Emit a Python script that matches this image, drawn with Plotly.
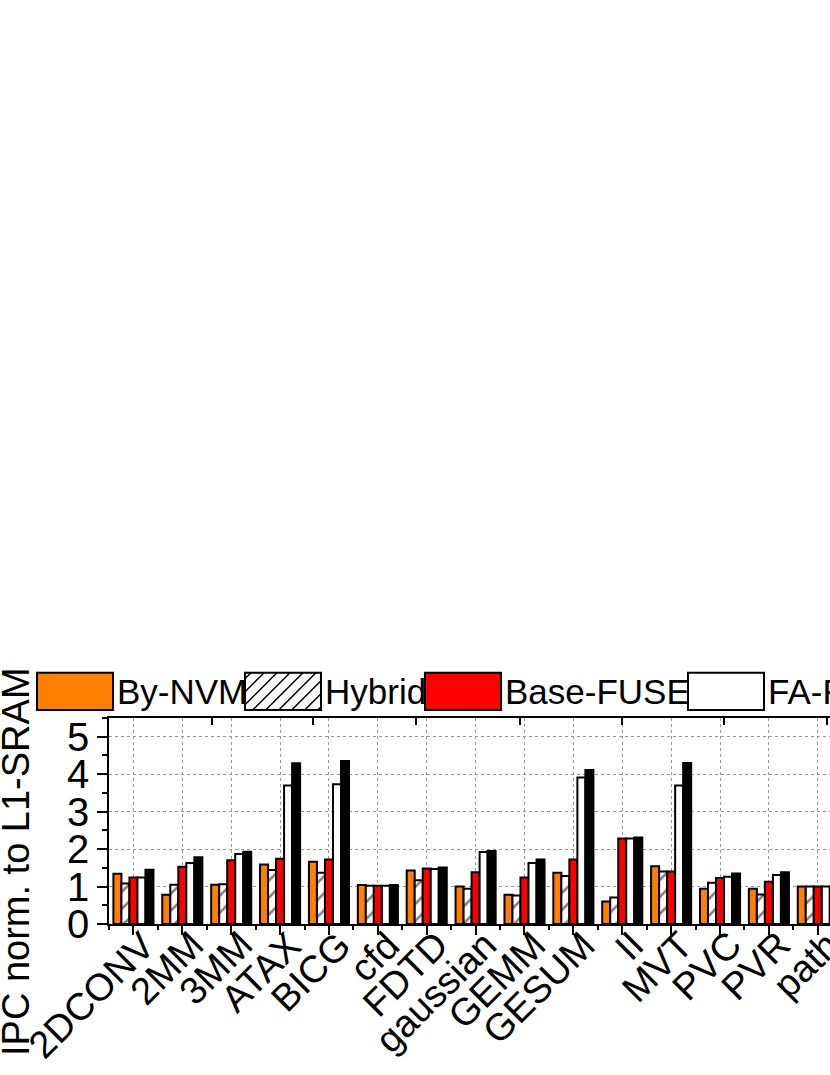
import plotly.graph_objects as go

categories = ["2DCONV", "2MM", "3MM", "ATAX", "BICG", "cfd", "FDTD", "gaussian",
              "GEMM", "GESUM", "II", "MVT", "PVC", "PVR", "path"]
series_names = ["By-NVM", "Hybrid", "Base-FUSE", "FA-FUSE", "FUSE"]
by_nvm    = [1.34, 0.78, 1.05, 1.59, 1.66, 1.04, 1.43, 1.00, 0.78, 1.37, 0.60, 1.54, 0.94, 0.94, 1.00]
hybrid    = [1.08, 1.05, 1.06, 1.44, 1.37, 1.02, 1.17, 0.94, 0.76, 1.28, 0.71, 1.40, 1.10, 0.79, 1.00]
base_fuse = [1.24, 1.53, 1.70, 1.74, 1.72, 1.02, 1.48, 1.38, 1.24, 1.72, 2.28, 1.40, 1.23, 1.13, 1.00]
fa_fuse   = [1.24, 1.63, 1.87, 3.70, 3.73, 1.02, 1.47, 1.92, 1.63, 3.91, 2.28, 3.70, 1.26, 1.31, 1.00]
fuse      = [1.45, 1.78, 1.93, 4.29, 4.35, 1.04, 1.51, 1.95, 1.72, 4.11, 2.31, 4.30, 1.35, 1.38, 1.00]
y_ticks = [0, 1, 2, 3, 4, 5]
top_ticks = [1.60, 3.68, 5.79, 7.91, 9.99, 12.08, 14.18]

FONT = "Liberation Sans, Arial, Helvetica, sans-serif"
colors = ["#FF8000", "#FFFFFF", "#FF0000", "#FFFFFF", "#000000"]
patterns = ["", "/", "", "", ""]
values = [by_nvm, hybrid, base_fuse, fa_fuse, fuse]
xs = list(range(len(categories)))

fig = go.Figure()
for name, vals, col, pat in zip(series_names, values, colors, patterns):
    fig.add_trace(go.Bar(
        x=xs, y=vals, name=name, showlegend=False,
        marker=dict(color=col, line=dict(color="black", width=2),
                    pattern=dict(shape=pat, fgcolor="black", bgcolor="white", size=12, solidity=0.22)),
    ))

# invisible trace to host the top axis
fig.add_trace(go.Scatter(x=[None], y=[None], xaxis="x2", yaxis="y", showlegend=False, hoverinfo="skip"))

W, H = 830, 1075
L, R_, T, B = 109, 0, 718, 151
pw = W - L - R_
ph = H - T - B

def px(x):
    return (x - L) / pw

def py(y):
    return (H - B - y) / ph

# custom legend (big swatches)
shapes = []
annotations = []
box_w = 76
box_y0, box_y1 = 672.7, 710.0
leg_x = [37, 245, 425, 688, 930]
for i, (name, col) in enumerate(zip(series_names, colors)):
    x0 = leg_x[i]
    x1 = x0 + box_w
    shapes.append(dict(type="rect", xref="paper", yref="paper",
                       x0=px(x0), x1=px(x1), y0=py(box_y1), y1=py(box_y0),
                       fillcolor=col, line=dict(color="black", width=2), layer="above"))
    if patterns[i] == "/":
        segs = []
        step = 13.0
        h = box_y1 - box_y0
        c = x0 - h + 6
        while c < x1:
            xa, ya = c, box_y1
            xb, yb = c + h, box_y0
            if xa < x0:
                ya = box_y1 - (x0 - c)
                xa = x0
            if xb > x1:
                yb = box_y1 - (x1 - c)
                xb = x1
            if xb > xa:
                segs.append(f"M {px(xa):.5f},{py(ya):.5f} L {px(xb):.5f},{py(yb):.5f}")
            c += step
        shapes.append(dict(type="path", xref="paper", yref="paper", path=" ".join(segs),
                           line=dict(color="black", width=1.5), layer="above"))
    annotations.append(dict(text=name, xref="paper", yref="paper", x=px(x1 + 2),
                            y=py((box_y0 + box_y1) / 2), xanchor="left", yanchor="middle",
                            showarrow=False, font=dict(family=FONT, size=35, color="black")))

annotations.append(dict(text="IPC norm. to L1-SRAM", xref="paper", yref="paper",
                        x=px(16), y=py(862), textangle=-90, showarrow=False,
                        xanchor="center", yanchor="middle",
                        font=dict(family=FONT, size=38, color="black")))

# rotated category labels
for xi, cat in zip(xs, categories):
    annotations.append(dict(text=cat, xref="x", yref="paper", x=xi, y=0, textangle=-45,
                            xanchor="right", yanchor="top", xshift=32, yshift=3,
                            showarrow=False, font=dict(family=FONT, size=38, color="black")))

fig.update_layout(
    width=W, height=H,
    margin=dict(l=L, r=R_, t=T, b=B, pad=0),
    paper_bgcolor="white", plot_bgcolor="white",
    barmode="group", bargap=0.18, bargroupgap=0,
    shapes=shapes, annotations=annotations,
    showlegend=False,
    font=dict(family=FONT, color="black"),
    xaxis=dict(range=[-0.5, 14.25], tickvals=xs, showticklabels=False,
               ticks="outside", ticklen=9, tickwidth=1.5, tickcolor="black",
               minor=dict(tick0=0.5, dtick=1, ticks="outside", ticklen=4, tickwidth=1.5,
                          tickcolor="black", showgrid=False),
               showline=True, linecolor="black", linewidth=1.5, mirror=False,
               showgrid=True, gridcolor="#9a9a9a", griddash="dot", gridwidth=1,
               zeroline=False, automargin=False),
    xaxis2=dict(range=[-0.5, 14.25], overlaying="x", side="top", anchor="y",
                tickvals=top_ticks, showticklabels=False, ticks="inside", ticklen=7,
                tickwidth=1.5, tickcolor="black", showline=True, linecolor="black",
                linewidth=1.5, showgrid=False, zeroline=False, automargin=False),
    yaxis=dict(range=[0, 5.5], tickvals=y_ticks,
               tickfont=dict(family=FONT, size=40, color="black"),
               ticks="outside", ticklen=10, tickwidth=1.5, tickcolor="black",
               minor=dict(tick0=0.5, dtick=1, ticks="outside", ticklen=5, tickwidth=1.5,
                          tickcolor="black", showgrid=False),
               showline=True, linecolor="black", linewidth=1.5, mirror=False,
               showgrid=True, gridcolor="#9a9a9a", griddash="dot", gridwidth=1,
               zeroline=False, automargin=False),
)

fig.write_html("out.html", config={"displayModeBar": False},
               post_script="document.body.style.margin='0px';")
